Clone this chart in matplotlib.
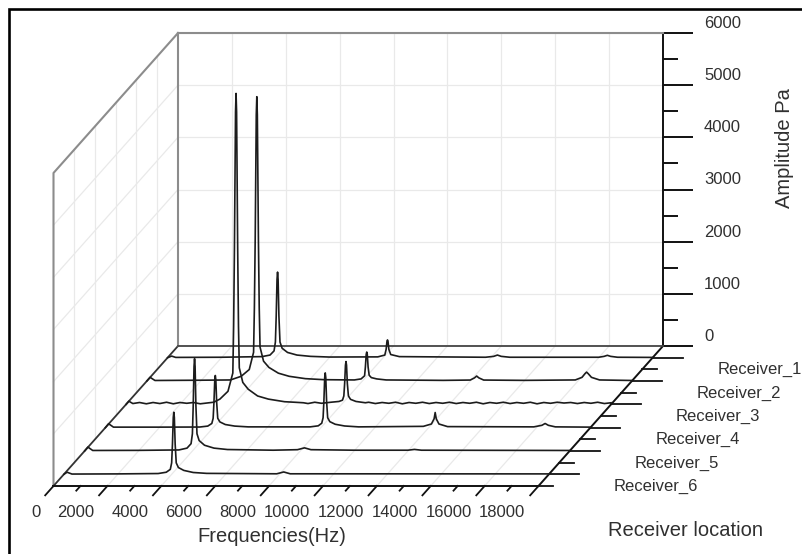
import numpy as np
import matplotlib
matplotlib.use("Agg")
import matplotlib.pyplot as plt
from matplotlib import transforms
from matplotlib.patches import Rectangle
from matplotlib.ticker import MultipleLocator

plt.rcParams['font.family'] = ['Liberation Sans', 'DejaVu Sans']

# ---- data ----
RECEIVERS = ['Receiver_1', 'Receiver_2', 'Receiver_3', 'Receiver_4', 'Receiver_5', 'Receiver_6']
RECEIVER_POS = [1, 2, 3, 4, 5, 6]
FREQ_TICKS = [0, 2000, 4000, 6000, 8000, 10000, 12000, 14000, 16000, 18000]
AMP_TICKS = [0, 1000, 2000, 3000, 4000, 5000, 6000]

FREQ_R1 = [0, 150, 300, 2000, 3500, 3800, 3950, 4000, 4030, 4060, 4080, 4100, 4130, 4170,
           4250, 4450, 4800, 5300, 6000, 7800, 8060, 8110, 8140, 8160, 8180, 8210, 8280,
           8600, 11800, 12100, 12240, 12380, 12700, 16000, 16200, 16320, 16440, 16700, 18000]
AMP_R1 = [0, 30, 5, 8, 20, 50, 130, 300, 800, 1500, 1640, 1500, 800, 300,
          180, 100, 50, 25, 12, 15, 50, 160, 310, 340, 310, 160, 60,
          20, 8, 25, 50, 25, 8, 8, 25, 45, 25, 8, 5]

FREQ_R2 = [0, 120, 300, 2000, 3100, 3500, 3800, 3960, 3990, 4020, 4060, 4080, 4100, 4140,
           4170, 4200, 4330, 4530, 4880, 5280, 5880, 6580, 7700, 7950, 8080, 8110, 8140,
           8160, 8180, 8210, 8250, 8330, 8530, 8880, 11000, 12000, 12160, 12240, 12320,
           12500, 14000, 15900, 16150, 16260, 16320, 16380, 16500, 16800, 18000]
AMP_R2 = [0, 70, 10, 15, 20, 90, 220, 550, 1400, 2700, 5100, 5450, 5100, 2700,
          1400, 650, 380, 260, 150, 90, 45, 25, 20, 40, 100, 270, 510,
          555, 510, 270, 110, 65, 40, 20, 12, 18, 60, 95, 60,
          18, 12, 20, 70, 140, 170, 140, 70, 20, 10]

FREQ_R3 = [0, 100, 250, 500, 750, 1000, 1250, 1500, 1750, 2000, 2250, 2500, 2750, 3080,
           3250, 3480, 3780, 3960, 3990, 4020, 4060, 4080, 4100, 4140, 4170, 4200, 4330,
           4530, 4880, 5280, 5880, 6250, 6580, 6750, 7000, 7250, 7600, 7900, 8030, 8080,
           8110, 8140, 8160, 8180, 8210, 8250, 8330, 8530, 8880, 9000, 9250, 9500, 9750,
           10000, 10250, 10500, 10750, 11000, 11250, 11500, 11750, 12000, 12250, 12500,
           12750, 13000, 13250, 13500, 13750, 14000, 14250, 14500, 14750, 15000, 15250,
           15500, 15750, 16000, 16250, 16500, 16750, 17000, 17250, 17500, 17750, 18000]
AMP_R3 = [0, 60, 15, 35, 10, 35, 15, 40, 10, 35, 20, 35, 10, 30,
          40, 100, 250, 600, 1500, 3000, 5600, 5960, 5600, 3000, 1500, 700, 420,
          290, 160, 100, 50, 40, 30, 15, 40, 20, 40, 55, 80, 160,
          400, 750, 820, 750, 400, 160, 95, 55, 30, 40, 15, 35, 20,
          40, 10, 35, 20, 40, 15, 35, 20, 40, 15, 35,
          20, 40, 10, 35, 20, 40, 15, 35, 20, 40, 10,
          35, 20, 40, 25, 35, 15, 35, 20, 40, 15, 30]

FREQ_R4 = [0, 120, 300, 2000, 3500, 3800, 3950, 4000, 4030, 4060, 4080, 4100, 4130, 4170,
           4250, 4450, 4800, 5300, 7600, 7900, 8030, 8080, 8110, 8140, 8160, 8180, 8210,
           8250, 8330, 8530, 8880, 9400, 11800, 12100, 12200, 12240, 12280, 12380, 12700,
           15900, 16200, 16320, 16440, 16700, 18000]
AMP_R4 = [0, 75, 10, 10, 12, 30, 80, 180, 490, 915, 1000, 915, 490, 180,
          110, 60, 30, 15, 15, 35, 85, 190, 510, 960, 1050, 960, 510,
          190, 115, 65, 32, 15, 25, 70, 170, 290, 170, 70, 20,
          15, 45, 80, 45, 15, 10]

FREQ_R5 = [0, 120, 300, 2000, 3500, 3800, 3950, 4000, 4030, 4060, 4080, 4100, 4130, 4170,
           4250, 4450, 4800, 5300, 7000, 7900, 8160, 8400, 10000, 12000, 12240, 12500, 18000]
AMP_R5 = [0, 75, 10, 12, 20, 55, 140, 330, 870, 1620, 1770, 1620, 870, 330,
          200, 110, 55, 28, 15, 25, 60, 25, 15, 15, 30, 15, 10]

FREQ_R6 = [0, 120, 300, 2000, 3500, 3800, 3950, 4000, 4030, 4060, 4080, 4100, 4130, 4170,
           4250, 4450, 4800, 5300, 7900, 8160, 8400, 18000]
AMP_R6 = [0, 40, 5, 8, 15, 40, 95, 220, 580, 1090, 1190, 1090, 580, 220,
          130, 75, 35, 18, 10, 45, 10, 8]

SPECTRA = [(FREQ_R1, AMP_R1), (FREQ_R2, AMP_R2), (FREQ_R3, AMP_R3),
           (FREQ_R4, AMP_R4), (FREQ_R5, AMP_R5), (FREQ_R6, AMP_R6)]

# ---- layout (pixels of the 803x554 picture) ----
W, H = 803, 554
WALL_L, WALL_R, WALL_T, WALL_B = 178, 663, 33, 346   # back wall
DX_PX, DY_PX = -20.75, -23.33                        # shift per receiver step
R_BACK, R_FRONT = 0.5, 6.5
XMAX, YMAX = 18000, 6000

TXT = '#303030'
GRID = '#e9e9e9'
EDGE = '#8c8c8c'
INK = '#111111'

fig = plt.figure(figsize=(W / 100, H / 100), dpi=100)
ax = fig.add_axes([WALL_L / W, 1 - WALL_B / H, (WALL_R - WALL_L) / W, (WALL_B - WALL_T) / H])
ax.set_xlim(0, XMAX)
ax.set_ylim(0, YMAX)
ax.patch.set_alpha(0)

hz_px = XMAX / (WALL_R - WALL_L)
pa_px = YMAX / (WALL_B - WALL_T)
dxd, dyd = DX_PX * hz_px, DY_PX * pa_px

# (freq, depth) -> floor plane ; (depth, amp) -> left wall plane
floor_tr = transforms.Affine2D(np.array([[1, dxd, -R_BACK * dxd],
                                         [0, dyd, -R_BACK * dyd],
                                         [0, 0, 1]])) + ax.transData
wall_tr = transforms.Affine2D(np.array([[dxd, 0, -R_BACK * dxd],
                                        [dyd, 1, -R_BACK * dyd],
                                        [0, 0, 1]])) + ax.transData


def depth_tr(r):
    return transforms.Affine2D().translate((r - R_BACK) * dxd, (r - R_BACK) * dyd) + ax.transData


def px_offset(tr, ox, oy):
    return tr + transforms.ScaledTranslation(ox / 100, oy / 100, fig.dpi_scale_trans)


# back wall: grid, spines, amplitude axis
ax.set_xticks(FREQ_TICKS[1:-1])
ax.set_yticks(AMP_TICKS)
ax.yaxis.set_minor_locator(MultipleLocator(500))
ax.grid(True, color=GRID, lw=0.9, zorder=0)
ax.set_axisbelow(True)
ax.tick_params(axis='x', length=0, labelbottom=False)
ax.yaxis.tick_right()
ax.tick_params(axis='y', which='major', direction='out', length=21.6, width=1.4,
               color=INK, labelright=False)
ax.tick_params(axis='y', which='minor', direction='out', length=10.8, width=1.4, color=INK)
for side in ['left', 'top']:
    ax.spines[side].set_color(EDGE)
    ax.spines[side].set_linewidth(1.5)
ax.spines['bottom'].set_color('#444444')
ax.spines['bottom'].set_linewidth(1.3)
ax.spines['right'].set_color(INK)
ax.spines['right'].set_linewidth(1.4)

for v in AMP_TICKS:
    ax.text(XMAX, v, str(v), transform=px_offset(ax.transData, 41, 9.5),
            ha='left', va='center', fontsize=12, color=TXT)

# left wall grid + edges
mids = [p + 0.5 for p in RECEIVER_POS[:-1]]
for m in mids:
    ax.plot([m, m], [0, YMAX], transform=wall_tr, color=GRID, lw=0.9, zorder=0.5, clip_on=False)
for v in AMP_TICKS[1:-1]:
    ax.plot([R_BACK, R_FRONT], [v, v], transform=wall_tr, color=GRID, lw=0.9, zorder=0.5, clip_on=False)
ax.plot([R_BACK, R_FRONT, R_FRONT], [YMAX, YMAX, 0], transform=wall_tr, color=EDGE,
        lw=1.5, zorder=2, clip_on=False)

# floor grid + edges
for f in FREQ_TICKS[1:-1]:
    ax.plot([f, f], [R_BACK, R_FRONT], transform=floor_tr, color=GRID, lw=0.9, zorder=0.5, clip_on=False)
ax.plot([0, 0], [R_BACK, R_FRONT], transform=floor_tr, color='#333333', lw=1.3, zorder=2, clip_on=False)
ax.plot([0, XMAX], [R_FRONT, R_FRONT], transform=floor_tr, color=INK, lw=1.4, zorder=2, clip_on=False)
ax.plot([XMAX, XMAX], [R_BACK, R_FRONT], transform=floor_tr, color=INK, lw=1.4, zorder=2, clip_on=False)

# frequency ticks (slanted toward the viewer) and labels
for f in FREQ_TICKS:
    ax.plot([f, f], [R_FRONT, R_FRONT + 0.4], transform=floor_tr, color=INK, lw=1.3, clip_on=False)
    ax.text(f, R_FRONT, str(f), transform=px_offset(floor_tr, -13, -27),
            ha='right', va='center', fontsize=12, color=TXT)
for f in FREQ_TICKS[:-1]:
    ax.plot([f + 1000, f + 1000], [R_FRONT, R_FRONT + 0.2], transform=floor_tr,
            color=INK, lw=1.3, clip_on=False)

# receiver ticks and labels
major_len = 30 * hz_px
minor_len = 15 * hz_px
for r, name in zip(RECEIVER_POS, RECEIVERS):
    ax.plot([XMAX, XMAX + major_len], [r, r], transform=floor_tr, color=INK, lw=1.3, clip_on=False)
    ax.text(XMAX, r, name, transform=px_offset(floor_tr, 65, -12),
            ha='left', va='center', fontsize=12, color=TXT)
for m in mids + [R_FRONT]:
    ax.plot([XMAX, XMAX + minor_len], [m, m], transform=floor_tr, color=INK, lw=1.3, clip_on=False)

# spectra, back to front
for r, (fq, amp) in zip(RECEIVER_POS, SPECTRA):
    ax.plot(fq, amp, transform=depth_tr(r), color='#1c1c1c', lw=1.2, zorder=3, clip_on=False)

# axis titles
fig.text(272 / W, 1 - 537 / H, 'Frequencies(Hz)', ha='center', va='center', fontsize=14.5, color=TXT)
fig.text(686 / W, 1 - 530 / H, 'Receiver location', ha='center', va='center', fontsize=14.5, color=TXT)
fig.text(785 / W, 1 - 148 / H, 'Amplitude Pa', ha='center', va='center', rotation=90,
         fontsize=14.5, color=TXT)

# outer frame (cut by the right and bottom of the picture)
fig.add_artist(Rectangle((9 / W, -0.1), 1.2, 1.1 - 9 / H, transform=fig.transFigure,
                         fill=False, lw=1.9, edgecolor='black'))

fig.savefig('out.png', dpi=100)
